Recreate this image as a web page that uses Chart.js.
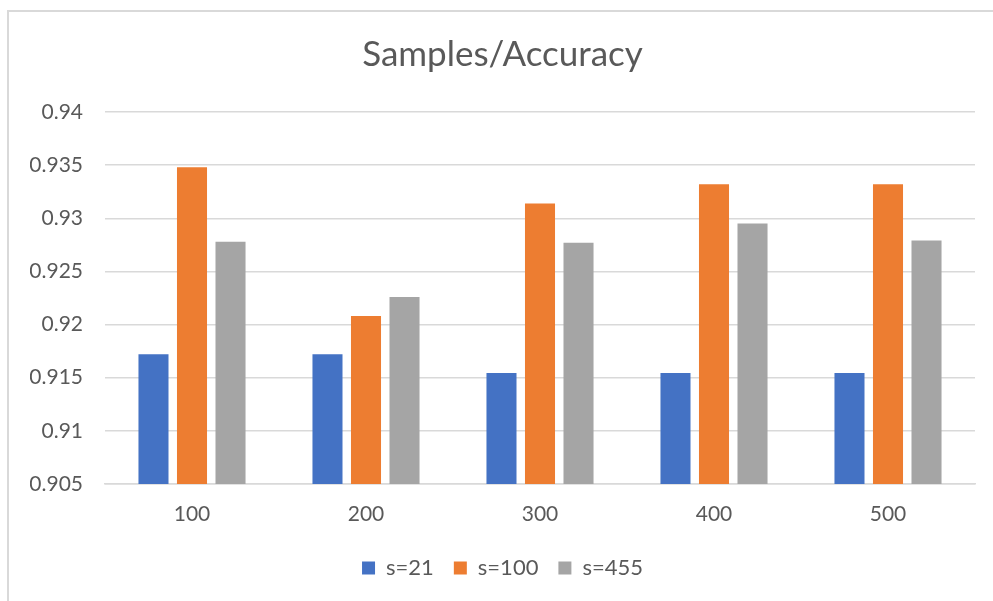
<!DOCTYPE html>
<html>
<head>
<meta charset="utf-8">
<script src="https://cdn.jsdelivr.net/npm/chart.js@4/dist/chart.umd.min.js"></script>
<style>
  body { margin: 0; background: #fff; }
  #wrap { position: relative; width: 993px; height: 601px; overflow: hidden; }
  #frame { position: absolute; left: 7px; top: 10px; width: 1000px; height: 600px;
           border-top: 2px solid #d9d9d9; border-left: 2px solid #d9d9d9; box-sizing: border-box; }
  canvas { position: absolute; left: 0; top: 0; }
</style>
</head>
<body>
<div id="wrap">
  <div id="frame"></div>
  <canvas id="myChart" width="993" height="601"></canvas>
</div>
<script>
// data
const samples = ['100', '200', '300', '400', '500'];
const s21 = [0.9172, 0.9172, 0.91545, 0.91545, 0.91545];
const s100 = [0.9348, 0.9208, 0.9314, 0.9332, 0.9332];
const s455 = [0.9278, 0.9226, 0.9277, 0.9295, 0.9279];
const yTicks = [0.905, 0.91, 0.915, 0.92, 0.925, 0.93, 0.935, 0.94];
const yTickLabels = ['0.905', '0.91', '0.915', '0.92', '0.925', '0.93', '0.935', '0.94'];

const textColor = '#595959';
const gridColor = '#d9d9d9';
const fontFamily = 'Lato, "Open Sans", sans-serif';

var ctx = document.getElementById('myChart').getContext('2d');

var myChart = new Chart(ctx, {
  type: 'bar',
  data: {
    labels: samples,
    datasets: [
      { label: 's=21', data: s21, backgroundColor: '#4472C4' },
      { label: 's=100', data: s100, backgroundColor: '#ED7D31' },
      { label: 's=455', data: s455, backgroundColor: '#A5A5A5' }
    ]
  },
  options: {
    responsive: false,
    animation: false,
    categoryPercentage: 0.664,
    barPercentage: 0.78,
    // wide left padding keeps the title and legend centred like the original
    layout: { padding: { left: 30, right: 18, top: 34, bottom: 12 } },
    plugins: {
      title: {
        display: true,
        text: 'Samples/Accuracy',
        color: textColor,
        font: { family: fontFamily, size: 35, weight: 'normal', lineHeight: 1.2 },
        padding: { top: 0, bottom: 36 }
      },
      legend: {
        position: 'bottom',
        labels: {
          color: textColor,
          font: { family: fontFamily, size: 22 },
          boxWidth: 13,
          boxHeight: 13,
          padding: 20
        }
      },
      tooltip: { enabled: false }
    },
    scales: {
      x: {
        grid: { display: false, drawTicks: false },
        border: { display: true, color: gridColor, width: 1.5 },
        ticks: { color: textColor, font: { family: fontFamily, size: 21 }, padding: 18 },
        afterFit: function (scale) { scale.height = 53; }
      },
      y: {
        min: 0.905,
        max: 0.94,
        grid: { color: gridColor, lineWidth: 1.5, drawTicks: false },
        border: { display: false },
        ticks: {
          color: textColor,
          font: { family: fontFamily, size: 21 },
          padding: 22,
          callback: function (value, index) { return yTickLabels[index]; }
        },
        afterBuildTicks: function (scale) {
          scale.ticks = yTicks.map(function (v) { return { value: v }; });
        },
        afterFit: function (scale) { scale.width = 75; }
      }
    }
  }
});
</script>
</body>
</html>
